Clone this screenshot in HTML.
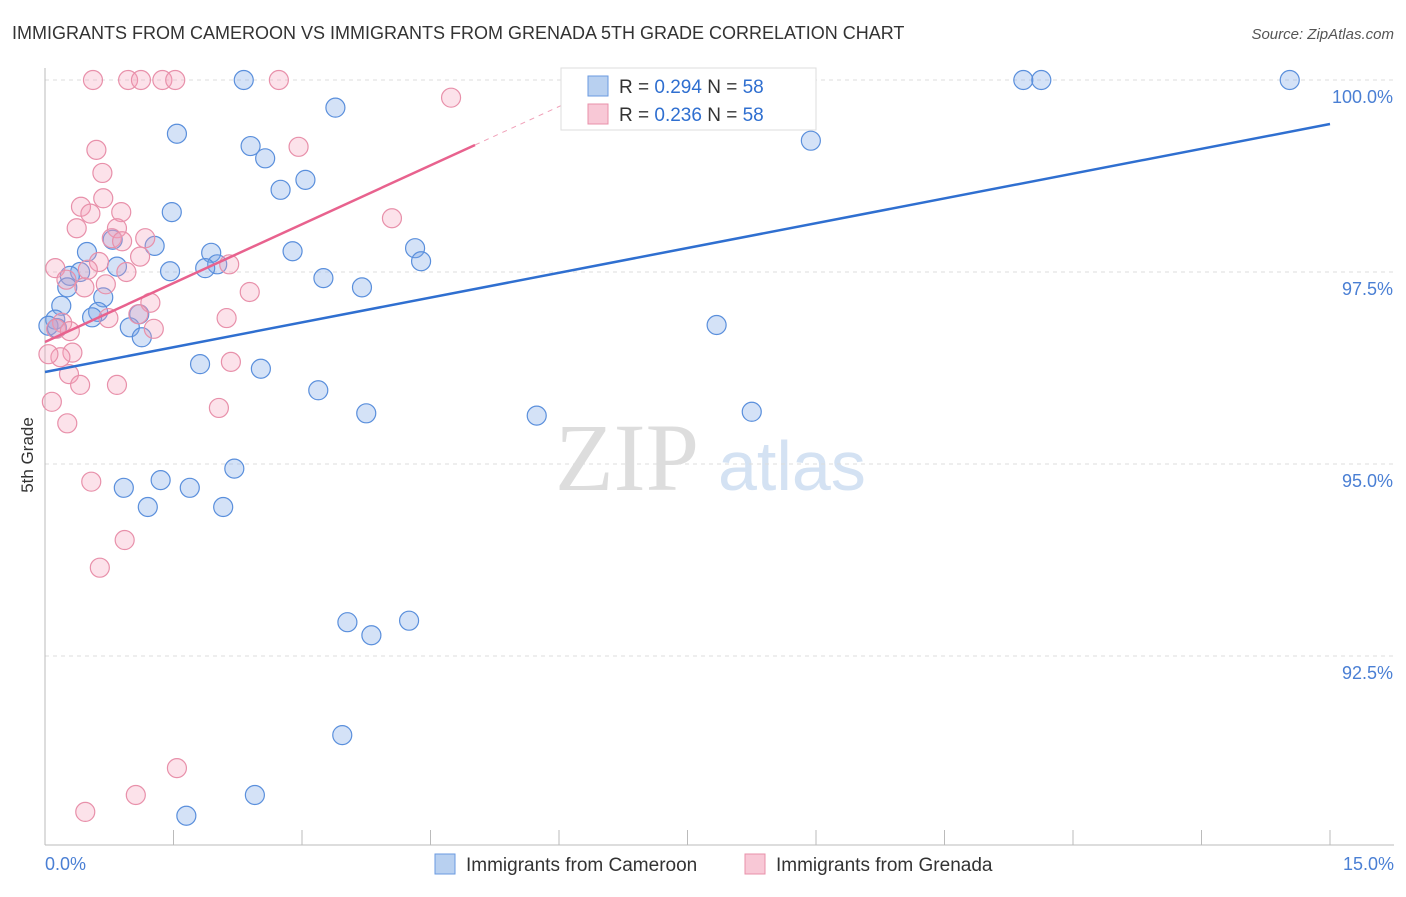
<!DOCTYPE html>
<html><head><meta charset="utf-8"><style>
body{margin:0;background:#fff;font-family:"Liberation Sans",sans-serif;}
</style></head><body>
<svg width="1406" height="892" xmlns="http://www.w3.org/2000/svg" font-family="Liberation Sans, sans-serif">
<text x="12" y="39" font-size="18" fill="#333">IMMIGRANTS FROM CAMEROON VS IMMIGRANTS FROM GRENADA 5TH GRADE CORRELATION CHART</text>
<text x="1394" y="39" font-size="15" fill="#555" font-style="italic" text-anchor="end">Source: ZipAtlas.com</text>
<text x="33" y="455" font-size="17" fill="#333" text-anchor="middle" transform="rotate(-90 33 455)">5th Grade</text>
<text x="555" y="490" font-size="96" fill="#ddd" font-family="Liberation Serif, serif">ZIP</text>
<text x="718" y="490" font-size="70" fill="#d4e2f3">atlas</text>
<g id="grid"></g><g id="axes"></g><g id="pts"></g><g id="lines"></g>
<g>
<rect x="561" y="68" width="255" height="62" fill="#fff" stroke="#ddd"/>
<rect x="588" y="76" width="20" height="20" fill="#b8d0f0" stroke="#6a9ae0"/>
<rect x="588" y="104" width="20" height="20" fill="#f8c8d6" stroke="#e890aa"/>
<text x="619" y="93" font-size="19" fill="#333">R = <tspan fill="#2f6fd0">0.294</tspan>   N = <tspan fill="#2f6fd0">58</tspan></text>
<text x="619" y="121" font-size="19" fill="#333">R = <tspan fill="#2f6fd0">0.236</tspan>   N = <tspan fill="#2f6fd0">58</tspan></text>
</g>
<g>
<rect x="435" y="854" width="20" height="20" fill="#b8d0f0" stroke="#6a9ae0"/>
<text x="466" y="871" font-size="19" fill="#333">Immigrants from Cameroon</text>
<rect x="745" y="854" width="20" height="20" fill="#f8c8d6" stroke="#e890aa"/>
<text x="776" y="871" font-size="19" fill="#333">Immigrants from Grenada</text>
</g>
</svg>
<script>
const blueX=[2.32,3.39,1.54,2.40,2.57,3.04,2.75,1.48,0.79,0.49,1.28,1.94,2.89,4.32,4.39,2.01,0.84,1.46,1.87,0.41,0.29,3.25,3.70,0.26,0.68,0.19,0.62,0.55,1.10,0.12,0.04,0.14,0.99,1.13,1.81,2.52,3.19,3.75,5.74,8.25,7.84,8.94,11.42,11.63,14.53,6.62,8.64,2.21,1.35,0.92,1.69,1.20,2.08,3.53,4.25,3.81,3.47,2.45,1.65];
const blueY=[100,99.64,99.30,99.14,98.98,98.70,98.57,98.28,97.92,97.76,97.84,97.75,97.77,97.81,97.64,97.60,97.57,97.51,97.55,97.50,97.45,97.42,97.30,97.30,97.17,97.06,96.98,96.91,96.95,96.88,96.80,96.77,96.78,96.65,96.30,96.24,95.96,95.66,95.63,95.68,96.81,99.21,100,100,100,100,100,94.94,94.79,94.69,94.69,94.44,94.44,92.94,92.96,92.77,91.47,90.69,90.42];
const pinkX=[0.56,0.97,1.12,1.37,1.52,2.73,4.74,0.60,2.96,0.67,0.68,0.42,0.89,0.53,4.05,0.37,0.84,1.17,0.78,0.90,1.11,2.15,0.12,0.63,0.50,0.95,0.25,0.71,0.46,2.39,1.23,1.09,2.12,0.74,0.20,0.13,0.29,1.27,0.32,0.18,0.04,2.17,0.28,0.41,0.84,2.03,0.08,0.26,0.54,0.93,0.64,1.54,1.06,0.47];
const pinkY=[100,100,100,100,100,100,99.77,99.09,99.13,98.79,98.46,98.35,98.28,98.26,98.20,98.07,98.07,97.94,97.94,97.90,97.70,97.60,97.55,97.63,97.53,97.50,97.40,97.34,97.30,97.24,97.10,96.95,96.90,96.90,96.84,96.76,96.73,96.76,96.45,96.39,96.43,96.33,96.17,96.03,96.03,95.73,95.81,95.53,94.77,94.01,93.65,91.04,90.69,90.47];
const blueTrend=[96.198,99.427];
const pinkTrend=[96.589,99.154];
const pinkSolidEnd=5.02, pinkDashEnd=6.9;
const yTicks=[100,97.5,95,92.5];
const yTickLabels=["100.0%","97.5%","95.0%","92.5%"];
const xTicks=[0,1.5,3,4.5,6,7.5,9,10.5,12,13.5,15];
const NS="http://www.w3.org/2000/svg";
const sx=v=>45+v/15*1285, sy=v=>80+(100-v)*76.8;
function mk(p,t,a){const e=document.createElementNS(NS,t);for(const k in a)e.setAttribute(k,a[k]);document.getElementById(p).appendChild(e);return e;}
yTicks.forEach((v,i)=>{
 const g=mk('grid','line',{x1:45,x2:1394,y1:sy(v),y2:sy(v),stroke:'#ddd','stroke-dasharray':'4,4'});
 
 
 const t=mk('grid','text',{x:1393,y:sy(v)+23,'font-size':18,fill:'#4a7fd4','text-anchor':'end'});t.textContent=yTickLabels[i];
 
 
});
const ax=mk('axes','line',{x1:45,x2:45,y1:68,y2:845,stroke:'#bbb'});


const bx=mk('axes','line',{x1:45,x2:1394,y1:845,y2:845,stroke:'#bbb'});


xTicks.forEach(v=>{const t=mk('axes','line',{x1:sx(v),x2:sx(v),y1:830,y2:845,stroke:'#bbb'});
 
 });
const l0=mk('axes','text',{x:45,y:870,'font-size':18,fill:'#4a7fd4'});l0.textContent='0.0%';


const l1=mk('axes','text',{x:1394,y:870,'font-size':18,fill:'#4a7fd4','text-anchor':'end'});l1.textContent='15.0%';


blueX.forEach((x,i)=>{const c=mk('pts','circle',{cx:sx(x),cy:sy(blueY[i]),r:9.5,fill:'rgba(120,165,230,0.32)',stroke:'#5a8fdc','stroke-width':1.2});
 
 });
pinkX.forEach((x,i)=>{const c=mk('pts','circle',{cx:sx(x),cy:sy(pinkY[i]),r:9.5,fill:'rgba(245,160,185,0.3)',stroke:'#e890aa','stroke-width':1.2});
 
 });
const bt=mk('lines','line',{x1:sx(0),y1:sy(blueTrend[0]),x2:sx(15),y2:sy(blueTrend[1]),stroke:'#2f6fd0','stroke-width':2.5});


const ps=(pinkTrend[1]-pinkTrend[0])/pinkSolidEnd;
const pt=mk('lines','line',{x1:sx(0),y1:sy(pinkTrend[0]),x2:sx(pinkSolidEnd),y2:sy(pinkTrend[1]),stroke:'#e8628e','stroke-width':2.5});


const pd=mk('lines','line',{x1:sx(pinkSolidEnd),y1:sy(pinkTrend[1]),x2:sx(pinkDashEnd),y2:sy(pinkTrend[0]+ps*pinkDashEnd),stroke:'#f0a0b8','stroke-width':1,'stroke-dasharray':'5,5'});


</script>
</body></html>
